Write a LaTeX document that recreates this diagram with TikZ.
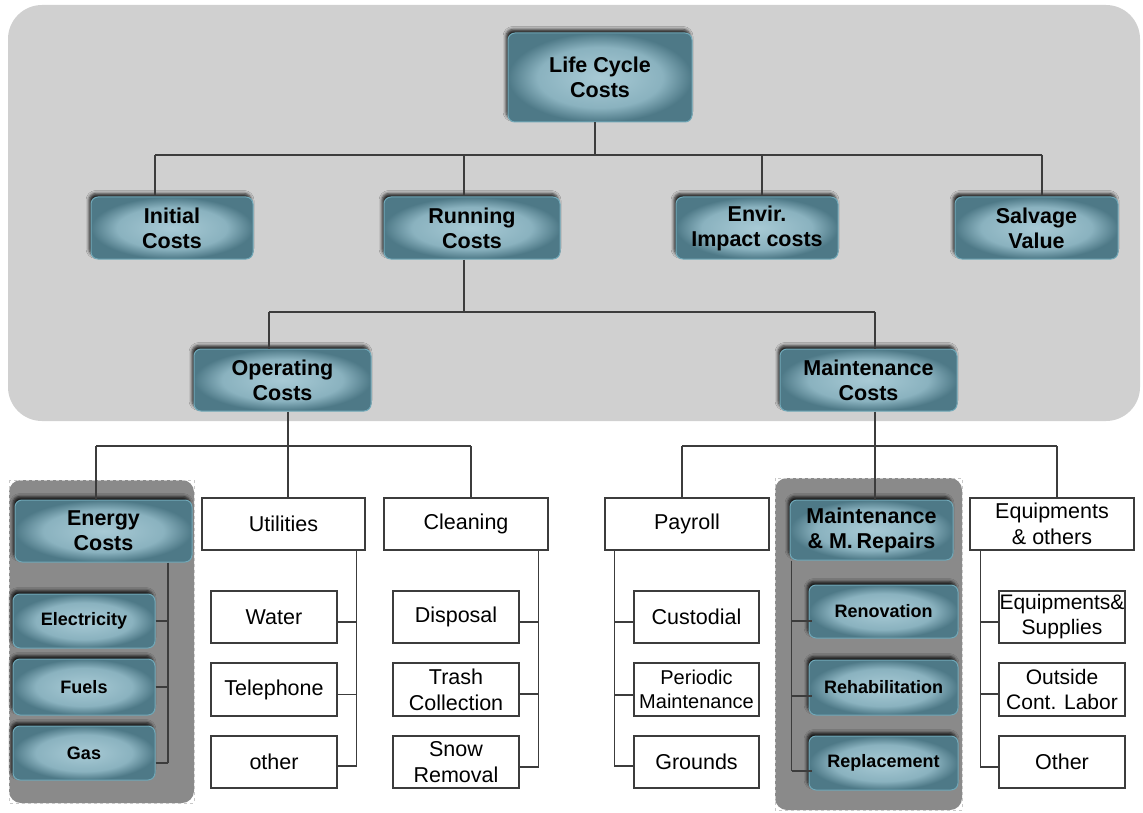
\documentclass[tikz,border=0pt]{standalone}
\usepackage{fontspec}
\setmainfont{Liberation Sans}
\usetikzlibrary{shadows.blur,calc}
\definecolor{panel}{RGB}{208,208,208}
\definecolor{grp}{RGB}{138,138,138}
\definecolor{grpedge}{RGB}{200,200,200}
\definecolor{tealin}{RGB}{168,202,213}
\definecolor{tealmid}{RGB}{138,178,191}
\definecolor{tealout}{RGB}{78,121,135}
\definecolor{tealedge}{RGB}{112,168,184}
\definecolor{lin}{RGB}{60,60,60}
\pgfdeclareradialshading{tealshade}{\pgfpoint{0bp}{0bp}}{color(0bp)=(tealin); color(17bp)=(tealmid); color(25bp)=(tealout); color(50bp)=(tealout)}
\tikzset{
 tnode/.style={rounded corners=7pt, draw=tealedge, line width=1pt, shading=tealshade,
   blur shadow={shadow xshift=-2pt, shadow yshift=3.5pt, shadow opacity=85, shadow blur steps=5, shadow blur radius=3pt},
   inner sep=0pt, align=center, text=black, font=\fontsize{21.5}{25}\selectfont\bfseries},
 tsmall/.style={tnode, font=\fontsize{18}{21}\selectfont\bfseries},
 wbox/.style={draw=lin, line width=1.3pt, fill=white, inner sep=0pt, align=center, font=\fontsize{21.5}{26}\selectfont},
 conn/.style={draw=lin, line width=1.2pt},
 grpbox/.style={fill=grp, rounded corners=12pt},
 grpdash/.style={draw=grpedge, dashed, line width=0.8pt},
}
\begin{document}
\begin{tikzpicture}[x=1pt,y=-1pt]
\useasboundingbox (0,0) rectangle (1143,813);
% background panel
\fill[panel, rounded corners=34pt] (8,5) rectangle (1140,421);
% groups
\fill[grpbox] (9,480) rectangle (194,803);
\draw[grpdash] (9,480) rectangle (194,803);
\fill[grpbox] (775,478) rectangle (962,810);
\draw[grpdash] (775,478) rectangle (962,810);

% level 0/1
\node[tnode, minimum width=184pt, minimum height=89pt] (lcc) at (600,77.5) {Life Cycle\\Costs};
\node[tnode, minimum width=162pt, minimum height=62pt] (ini) at (172,228) {Initial\\Costs};
\node[tnode, minimum width=176pt, minimum height=62pt] (run) at (472,228) {Running\\Costs};
\node[tnode, minimum width=162pt, minimum height=62pt] (env) at (757,228) {Envir.\\Impact costs};
\node[tnode, minimum width=163pt, minimum height=62pt] (sal) at (1036.5,228) {Salvage\\Value};
% level 2
\node[tnode, minimum width=177pt, minimum height=62pt] (op) at (282.5,380) {Operating\\Costs};
\node[tnode, minimum width=177pt, minimum height=62pt] (mc) at (868.5,380) {Maintenance\\Costs};
% level 3
\node[tnode, minimum width=177pt, minimum height=62pt] (eng) at (103.5,531) {Energy\\Costs};
\node[wbox, minimum width=163pt, minimum height=52pt] (utl) at (283.5,524) {Utilities};
\node[wbox, minimum width=164pt, minimum height=52pt] (cln) at (466,524) {Cleaning};
\node[wbox, minimum width=164pt, minimum height=52pt] (pay) at (687,524) {Payroll};
\node[tnode, minimum width=163pt, minimum height=60pt] (mrp) at (871.5,530) {Maintenance\\\& M.\,Repairs};
\node[wbox, minimum width=164pt, minimum height=52pt] (eqp) at (1052,524) {Equipments\\\& others};
% level 4
\node[tsmall, minimum width=142pt, minimum height=54pt] (ele) at (84,621) {Electricity};
\node[tsmall, minimum width=142pt, minimum height=56pt] (fue) at (84,687) {Fuels};
\node[tsmall, minimum width=142pt, minimum height=54pt] (gas) at (84,753) {Gas};

\node[wbox, minimum width=126pt, minimum height=52pt] (wat) at (274,617) {Water};
\node[wbox, minimum width=126pt, minimum height=53pt] (tel) at (274,689.5) {Telephone};
\node[wbox, minimum width=126pt, minimum height=52pt] (oth) at (274,762) {other};

\node[wbox, minimum width=126pt, minimum height=52pt] (dis) at (456,617) {Disposal};
\node[wbox, minimum width=126pt, minimum height=53pt] (tra) at (456,689.5) {Trash\\Collection};
\node[wbox, minimum width=126pt, minimum height=52pt] (sno) at (456,762) {Snow\\Removal};

\node[wbox, minimum width=125pt, minimum height=52pt] (cus) at (696.5,617) {Custodial};
\node[wbox, minimum width=125pt, minimum height=53pt, font=\fontsize{20}{24}\selectfont] (per) at (696.5,689.5) {Periodic\\Maintenance};
\node[wbox, minimum width=125pt, minimum height=52pt] (gro) at (696.5,762) {Grounds};

\node[tsmall, minimum width=149pt, minimum height=53pt] (ren) at (883.5,611.5) {Renovation};
\node[tsmall, minimum width=149pt, minimum height=55pt] (reh) at (883.5,687.5) {Rehabilitation};
\node[tsmall, minimum width=149pt, minimum height=54pt] (rep) at (883.5,763) {Replacement};

\node[wbox, minimum width=126pt, minimum height=52pt, font=\fontsize{21}{25}\selectfont] (eqs) at (1062,617) {Equipments\&\\Supplies};
\node[wbox, minimum width=126pt, minimum height=53pt, font=\fontsize{21}{25}\selectfont] (out) at (1062,689.5) {Outside\\Cont. Labor};
\node[wbox, minimum width=126pt, minimum height=52pt] (otr) at (1062,762) {Other};

% bus coordinates
\coordinate (b1) at (0,155);
\coordinate (b2) at (0,312);
\coordinate (b3) at (0,446);
% connector anchor points
\coordinate (lcc-b) at ([xshift=-5pt]lcc.south);
\coordinate (ini-t) at ([xshift=-17pt]ini.north);
\coordinate (run-t) at ([xshift=-8pt]run.north);
\coordinate (env-t) at ([xshift=5pt]env.north);
\coordinate (sal-t) at ([xshift=5.5pt]sal.north);
\coordinate (run-b) at ([xshift=-8pt]run.south);
\coordinate (op-t) at ([xshift=-13.5pt]op.north);
\coordinate (mc-t) at ([xshift=6.5pt]mc.north);
\coordinate (op-b) at ([xshift=5.5pt]op.south);
\coordinate (mc-b) at ([xshift=6.5pt]mc.south);
\coordinate (eng-t) at ([xshift=-7.5pt]eng.north);
\coordinate (utl-t) at ([xshift=4.5pt]utl.north);
\coordinate (cln-t) at ([xshift=5pt]cln.north);
\coordinate (pay-t) at ([xshift=-5pt]pay.north);
\coordinate (mrp-t) at ([xshift=3.5pt]mrp.north);
\coordinate (eqp-t) at ([xshift=5pt]eqp.north);

% level 1 connectors
\draw[conn] (lcc-b) -- (lcc-b |- b1);
\draw[conn] (ini-t |- b1) -- (sal-t |- b1);
\foreach \n in {ini,run,env,sal} \draw[conn] (\n-t |- b1) -- (\n-t);
% level 2
\draw[conn] (run-b) -- (run-b |- b2);
\draw[conn] (op-t |- b2) -- (mc-t |- b2);
\draw[conn] (op-t |- b2) -- (op-t);
\draw[conn] (mc-t |- b2) -- (mc-t);
% level 3
\draw[conn] (op-b) -- (op-b |- b3);
\draw[conn] (eng-t |- b3) -- (cln-t |- b3);
\foreach \n in {eng,utl,cln} \draw[conn] (\n-t |- b3) -- (\n-t);
\draw[conn] (mc-b) -- (mc-b |- b3);
\draw[conn] (pay-t |- b3) -- (eqp-t |- b3);
\foreach \n in {pay,mrp,eqp} \draw[conn] (\n-t |- b3) -- (\n-t);

% level 4 trees
% energy (right side)
\coordinate (eng-r) at ([xshift=64.5pt]eng.south);
\coordinate (gas-s) at ([yshift=-10pt]gas.east);
\draw[conn] (eng-r) -- (eng-r |- gas-s);
\draw[conn] (ele.east) -- (ele.east -| eng-r);
\draw[conn] (fue.east) -- (fue.east -| eng-r);
\draw[conn] (gas-s) -- (gas-s -| eng-r);
% utilities (right side)
\coordinate (utl-r) at ([xshift=-9pt]utl.south east);
\coordinate (wat-s) at ([yshift=-5pt]wat.east);
\coordinate (tel-s) at ([yshift=-5pt]tel.east);
\coordinate (oth-s) at ([yshift=-4pt]oth.east);
\draw[conn] (utl-r) -- (utl-r |- oth-s);
\foreach \n in {wat,tel,oth} \draw[conn] (\n-s) -- (\n-s -| utl-r);
% cleaning (right side)
\coordinate (cln-r) at ([xshift=-10pt]cln.south east);
\coordinate (dis-s) at ([yshift=-5pt]dis.east);
\coordinate (tra-s) at ([yshift=-4.5pt]tra.east);
\coordinate (sno-s) at ([yshift=-5pt]sno.east);
\draw[conn] (cln-r) -- (cln-r |- sno-s);
\foreach \n in {dis,tra,sno} \draw[conn] (\n-s) -- (\n-s -| cln-r);
% payroll (left side)
\coordinate (pay-l) at ([xshift=10pt]pay.south west);
\coordinate (cus-s) at ([yshift=-5pt]cus.west);
\coordinate (per-s) at ([yshift=-5.5pt]per.west);
\coordinate (gro-s) at ([yshift=-4pt]gro.west);
\draw[conn] (pay-l) -- (pay-l |- gro-s);
\foreach \n in {cus,per,gro} \draw[conn] (\n-s) -- (\n-s -| pay-l);
% maintenance & repairs (left side)
\coordinate (mrp-l) at ([xshift=2pt]mrp.south west);
\coordinate (ren-s) at ([yshift=-9.5pt,xshift=3pt]ren.west);
\coordinate (reh-s) at ([yshift=-8.5pt,xshift=3pt]reh.west);
\coordinate (rep-s) at ([yshift=-8pt,xshift=3pt]rep.west);
\draw[conn] (mrp-l) -- (mrp-l |- rep-s);
\foreach \n in {ren,reh,rep} \draw[conn] (\n-s) -- (\n-s -| mrp-l);
% equipments (left side)
\coordinate (eqp-l) at ([xshift=11pt]eqp.south west);
\coordinate (eqs-s) at ([yshift=-5pt]eqs.west);
\coordinate (out-s) at ([yshift=-4.5pt]out.west);
\coordinate (otr-s) at ([yshift=-5pt]otr.west);
\draw[conn] (eqp-l) -- (eqp-l |- otr-s);
\foreach \n in {eqs,out,otr} \draw[conn] (\n-s) -- (\n-s -| eqp-l);
\end{tikzpicture}
\end{document}
